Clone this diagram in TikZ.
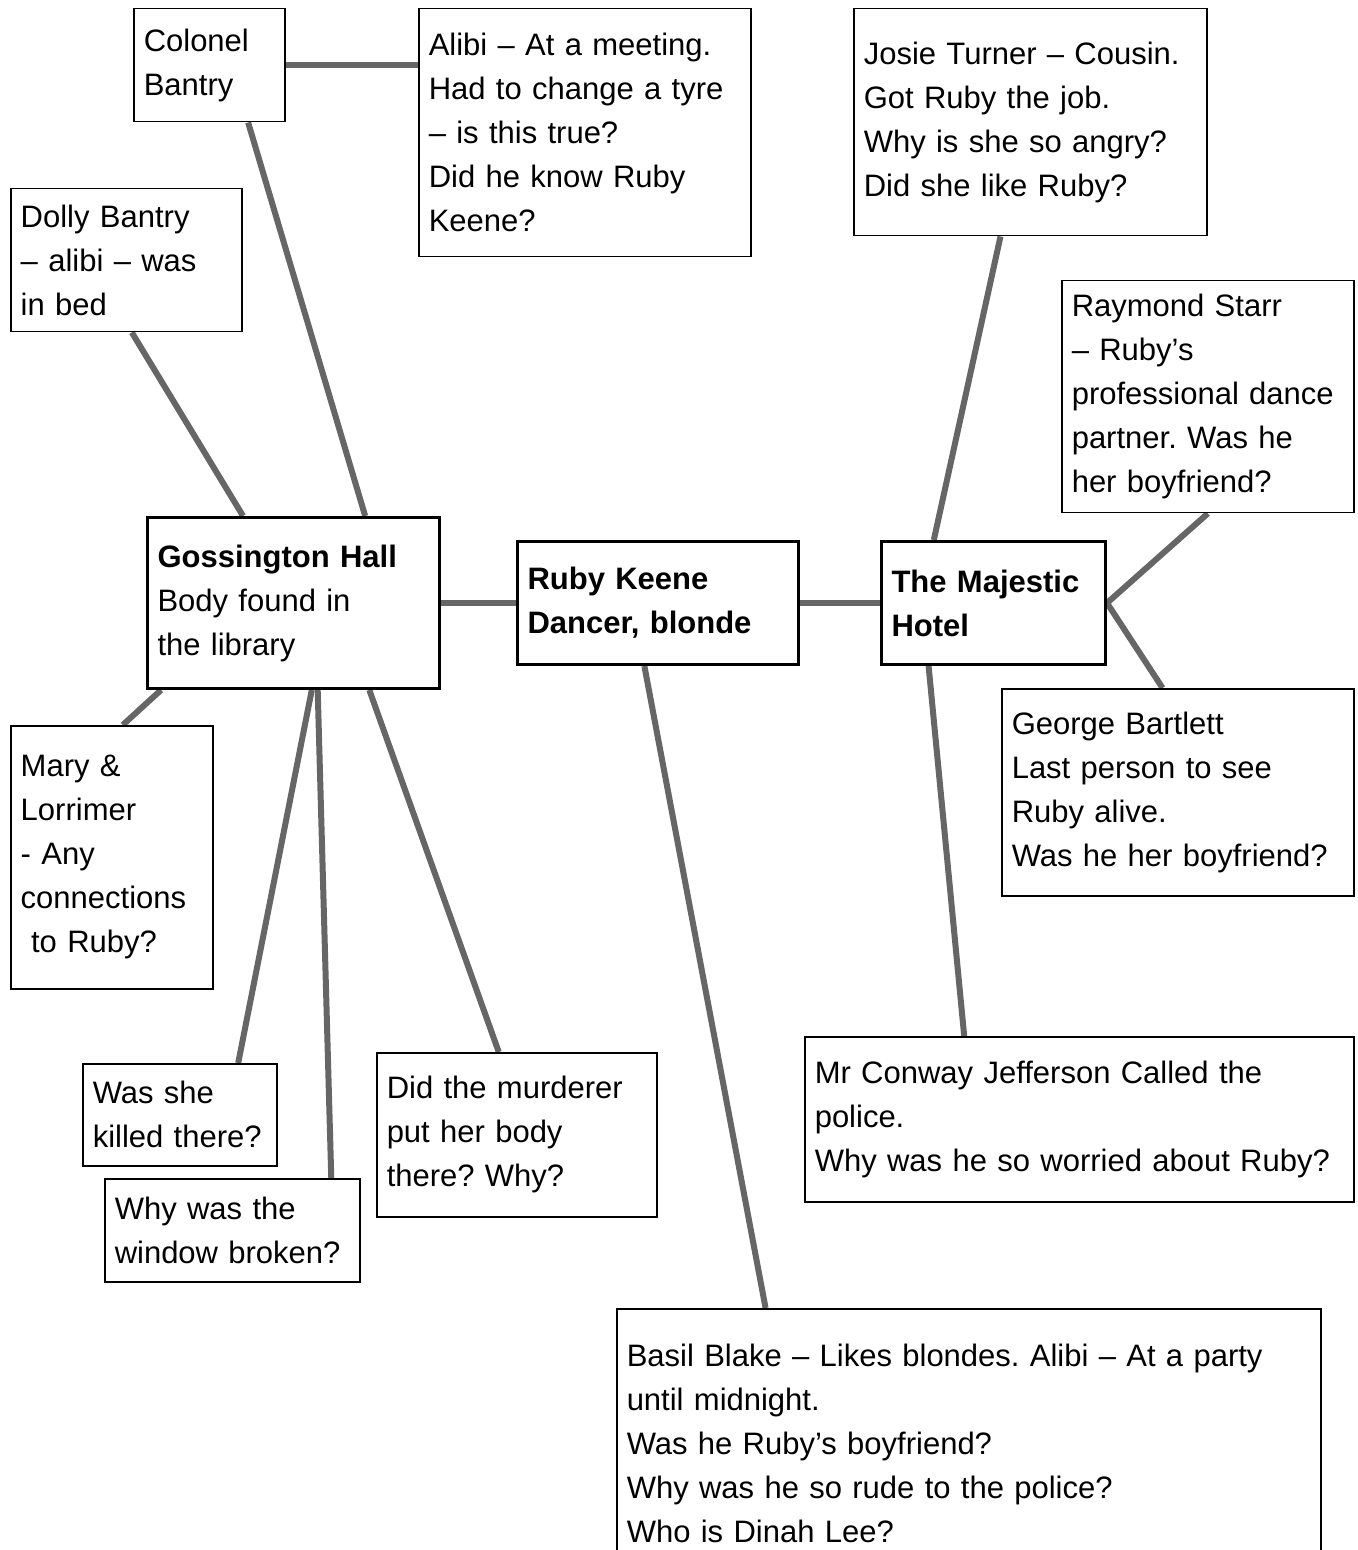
\documentclass[tikz,border=0pt]{standalone}
\usepackage{fontspec}
\setmainfont{Liberation Sans}
\usetikzlibrary{calc,backgrounds}
\frenchspacing

\begin{document}
\begin{tikzpicture}[x=0.5pt,y=-0.5pt,
    card/.style={draw=black, line width=0.75pt, fill=white, anchor=north west,
        align=left, inner xsep=5pt, inner ysep=0pt, font=\fontsize{15.5}{22}\selectfont},
    hub/.style={card, line width=1.5pt},
    link/.style={draw=black!60, line width=3pt}]
    \useasboundingbox (0,0) rectangle (1357,1550);
    \clip (0,0) rectangle (1357,1550);

    % centre of the map
    \node[hub, text width=136pt, minimum height=85.5pt] (hall) at (146,516)
        {\textbf{Gossington Hall}\\Body found in\\the library};
    \node[hub, text width=130.5pt, minimum height=61.5pt, font=\fontsize{15.5}{22}\selectfont\bfseries] (ruby) at (516,540)
        {Ruby Keene\\Dancer, blonde};
    \node[hub, text width=102pt, minimum height=61.5pt, font=\fontsize{15.5}{22}\selectfont\bfseries] (hotel) at (880,540)
        {The Majestic\\Hotel};

    % notes
    \node[card, text width=65.5pt, minimum height=56.5pt] (colonel) at (133,8)
        {Colonel\\Bantry};
    \node[card, text width=156pt, minimum height=124pt] (alibi) at (418,8)
        {Alibi – At a meeting.\\Had to change a tyre\\– is this true?\\Did he know Ruby\\Keene?};
    \node[card, text width=105.5pt, minimum height=71.5pt] (dolly) at (10,188)
        {Dolly Bantry\\– alibi – was\\in bed};
    \node[card, text width=91pt, minimum height=131.5pt] (mary) at (10,725)
        {Mary \&\\Lorrimer\\- Any\\connections\\\ to Ruby?};
    \node[card, text width=87pt, minimum height=51pt] (killed) at (82,1063)
        {Was she\\killed there?};
    \node[card, text width=117.5pt, minimum height=51.5pt] (window) at (104,1178)
        {Why was the\\window broken?};
    \node[card, text width=130pt, minimum height=82pt] (murderer) at (376,1052)
        {Did the murderer\\put her body\\there? Why?};
    \node[card, text width=166.5pt, minimum height=113.5pt] (josie) at (853,8)
        {Josie Turner – Cousin.\\Got Ruby the job.\\Why is she so angry?\\Did she like Ruby?};
    \node[card, text width=136pt, minimum height=116pt] (raymond) at (1061,280)
        {Raymond Starr\\– Ruby’s\\professional dance\\partner. Was he\\her boyfriend?};
    \node[card, text width=166pt, minimum height=103.5pt] (george) at (1001,688)
        {George Bartlett\\Last person to see\\Ruby alive.\\Was he her boyfriend?};
    \node[card, text width=264.5pt, minimum height=82.5pt] (conway) at (804,1036)
        {Mr Conway Jefferson Called the\\police.\\Why was he so worried about Ruby?};
    \node[card, text width=342pt, minimum height=135pt] (basil) at (616,1308)
        {Basil Blake – Likes blondes. Alibi – At a party\\until midnight.\\Was he Ruby’s boyfriend?\\Why was he so rude to the police?\\Who is Dinah Lee?};

    \begin{pgfonlayer}{background}
        \draw[link] (hall.east) -- (ruby.west);
        \draw[link] (ruby.east) -- (hotel.west);
        \draw[link] (colonel.east) -- (colonel.east -| alibi.west);
        \draw[link] ($(colonel.south west)!0.755!(colonel.south east)$) -- ($(hall.north west)!0.743!(hall.north east)$);
        \draw[link] ($(dolly.south west)!0.524!(dolly.south east)$) -- ($(hall.north west)!0.329!(hall.north east)$);
        \draw[link] ($(mary.north west)!0.554!(mary.north east)$) -- ($(hall.south west)!0.051!(hall.south east)$);
        \draw[link] ($(hall.south west)!0.562!(hall.south east)$) -- ($(killed.north west)!0.799!(killed.north east)$);
        \draw[link] ($(hall.south west)!0.582!(hall.south east)$) -- ($(window.north west)!0.886!(window.north east)$);
        \draw[link] ($(hall.south west)!0.757!(hall.south east)$) -- ($(murderer.north west)!0.436!(murderer.north east)$);
        \draw[link] ($(ruby.south west)!0.452!(ruby.south east)$) -- ($(basil.north west)!0.212!(basil.north east)$);
        \draw[link] ($(josie.south west)!0.416!(josie.south east)$) -- ($(hotel.north west)!0.237!(hotel.north east)$);
        \draw[link] (hotel.east) -- (raymond.south);
        \draw[link] (hotel.east) -- ($(george.north west)!0.457!(george.north east)$);
        \draw[link] ($(hotel.south west)!0.214!(hotel.south east)$) -- ($(conway.north west)!0.291!(conway.north east)$);
    \end{pgfonlayer}
\end{tikzpicture}
\end{document}
